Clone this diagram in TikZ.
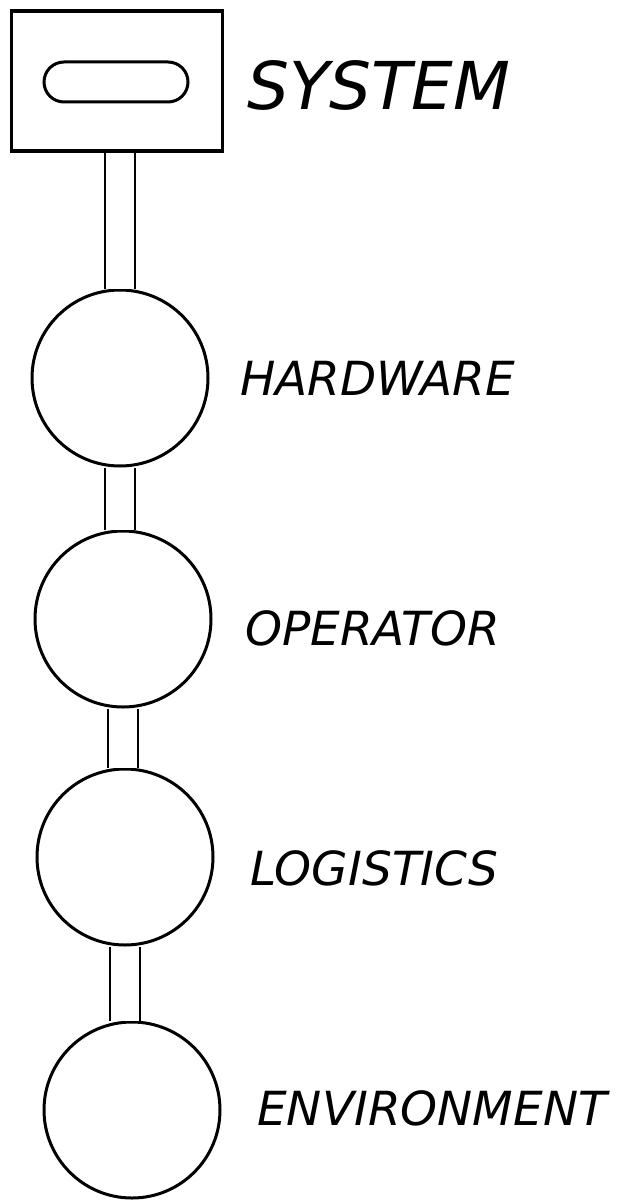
\documentclass[tikz,border=0pt]{standalone}
\usepackage{fontspec}
\setmainfont{DejaVu Sans}
\begin{document}
\begin{tikzpicture}[
    x=1pt, y=-1pt,
    part/.style={circle, draw, line width=3pt, minimum size=176pt, inner sep=0pt},
    stem/.style={draw, line width=2pt, double=white, double distance=28pt},
    label/.style={anchor=base west, inner sep=0pt, font=\fontsize{47}{50}\selectfont\itshape}
]
    \useasboundingbox[fill=white] (0,0) rectangle (621,1201);

    % System box
    \node[draw, line width=3.4pt, minimum width=211pt, minimum height=140pt, inner sep=0pt] (sys) at (117,81) {};
    \node[draw, line width=3pt, rounded corners=20pt, minimum width=144pt, minimum height=40pt, inner sep=0pt] (slot) at (116,82) {};

    % Parts
    \node[part] (hw) at (120,378) {};
    \node[part] (op) at (123,619) {};
    \node[part] (lg) at (125,857) {};
    \node[part] (env) at (132,1110) {};

    % Stems
    \draw[stem] (sys.south -| hw.north) -- (hw.north);
    \draw[stem] (hw.south) -- (hw.south |- op.north);
    \draw[stem] (op.south) -- (op.south |- lg.north);
    \draw[stem] (lg.south) -- (lg.south |- env.north);

    % Labels
    \node[label, font=\fontsize{66}{70}\selectfont\itshape] (tsys) at (247,110) {SYSTEM};
    \node[label] (thw) at (240,395) {HARDWARE};
    \node[label] (top) at (245,645) {OPERATOR};
    \node[label] (tlg) at (250,885) {LOGISTICS};
    \node[label] (tenv) at (257,1125) {ENVIRONMENT};
\end{tikzpicture}
\end{document}
